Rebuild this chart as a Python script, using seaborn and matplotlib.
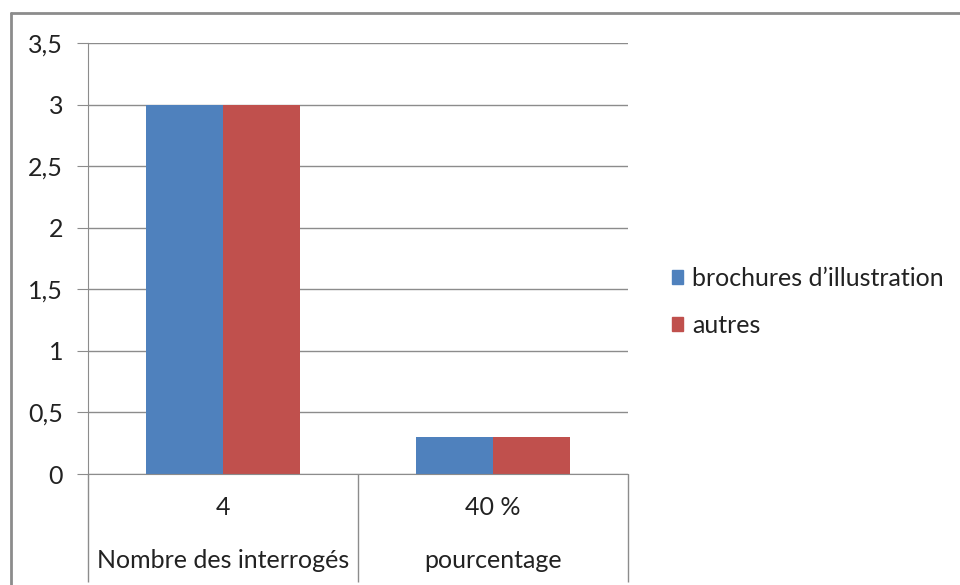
import pandas as pd
import matplotlib
matplotlib.use("Agg")
import matplotlib.pyplot as plt
import seaborn as sns
from matplotlib.lines import Line2D
from matplotlib.ticker import FuncFormatter

# donnees
categories = ["4", "40 %"]
sous_titres = ["Nombre des interrogés", "pourcentage"]
series = ["brochures d\u2019illustration", "autres"]
brochures = [3, 0.3]
autres = [3, 0.3]
couleurs = ["#4F81BD", "#C0504D"]

df = pd.DataFrame({
    "categorie": categories * 2,
    "serie": [series[0]] * 2 + [series[1]] * 2,
    "valeur": brochures + autres,
})

sns.set_style("white")
plt.rcParams["font.family"] = ["Lato", "DejaVu Sans"]
fs = 18

fig = plt.figure(figsize=(9.6, 5.85), dpi=100)
ax = fig.add_axes([88 / 960, 1 - 474 / 585, 540 / 960, 431 / 585])

sns.barplot(data=df, x="categorie", y="valeur", hue="serie", palette=couleurs,
            width=0.57, linewidth=0, saturation=1, ax=ax)

grid_col = "#8c8c8c"
ax.set_ylim(0, 3.5)
ax.set_xlim(-0.5, 1.5)
ax.set_yticks([0, 0.5, 1, 1.5, 2, 2.5, 3, 3.5])
ax.yaxis.set_major_formatter(FuncFormatter(lambda v, p: f"{v:g}".replace(".", ",")))
ax.grid(axis="y", color=grid_col, lw=1)
ax.set_axisbelow(True)
ax.set_xlabel("")
ax.set_ylabel("")
for s in ["top", "right"]:
    ax.spines[s].set_visible(False)
ax.spines["left"].set_color(grid_col)
ax.spines["bottom"].set_color(grid_col)
ax.tick_params(axis="y", length=8, color=grid_col, labelsize=fs, pad=10, left=True,
               labelcolor="#222222")
ax.tick_params(axis="x", length=0, labelsize=fs, pad=16, labelcolor="#222222")

# deuxieme niveau d'etiquettes
for i, t in enumerate(sous_titres):
    ax.annotate(t, xy=(i, 0), xycoords=("data", "axes fraction"),
                xytext=(0, -62), textcoords="offset points",
                ha="center", va="center", fontsize=fs, color="#222222")

# separateurs de categories
ax.vlines([-0.5, 0.5, 1.5], -0.25, 0, transform=ax.get_xaxis_transform(),
          color=grid_col, lw=1, clip_on=False)

# legende
handles = [plt.Rectangle((0, 0), 1, 1, color=c) for c in couleurs]
leg = ax.legend(handles, series, loc="center left", bbox_to_anchor=(672 / 960, 1 - 302 / 585),
                bbox_transform=fig.transFigure, frameon=False, fontsize=fs,
                borderaxespad=0, borderpad=0,
                handlelength=0.45, handleheight=0.45, handletextpad=0.35, labelspacing=0.96)
for t in leg.get_texts():
    t.set_color("#222222")

# cadre du graphique
fig.add_artist(Line2D([11 / 960, 11 / 960], [0, 1 - 13 / 585], color=grid_col, lw=2))
fig.add_artist(Line2D([11 / 960, 1], [1 - 13 / 585, 1 - 13 / 585], color=grid_col, lw=2))

fig.savefig("out.png", dpi=100)
